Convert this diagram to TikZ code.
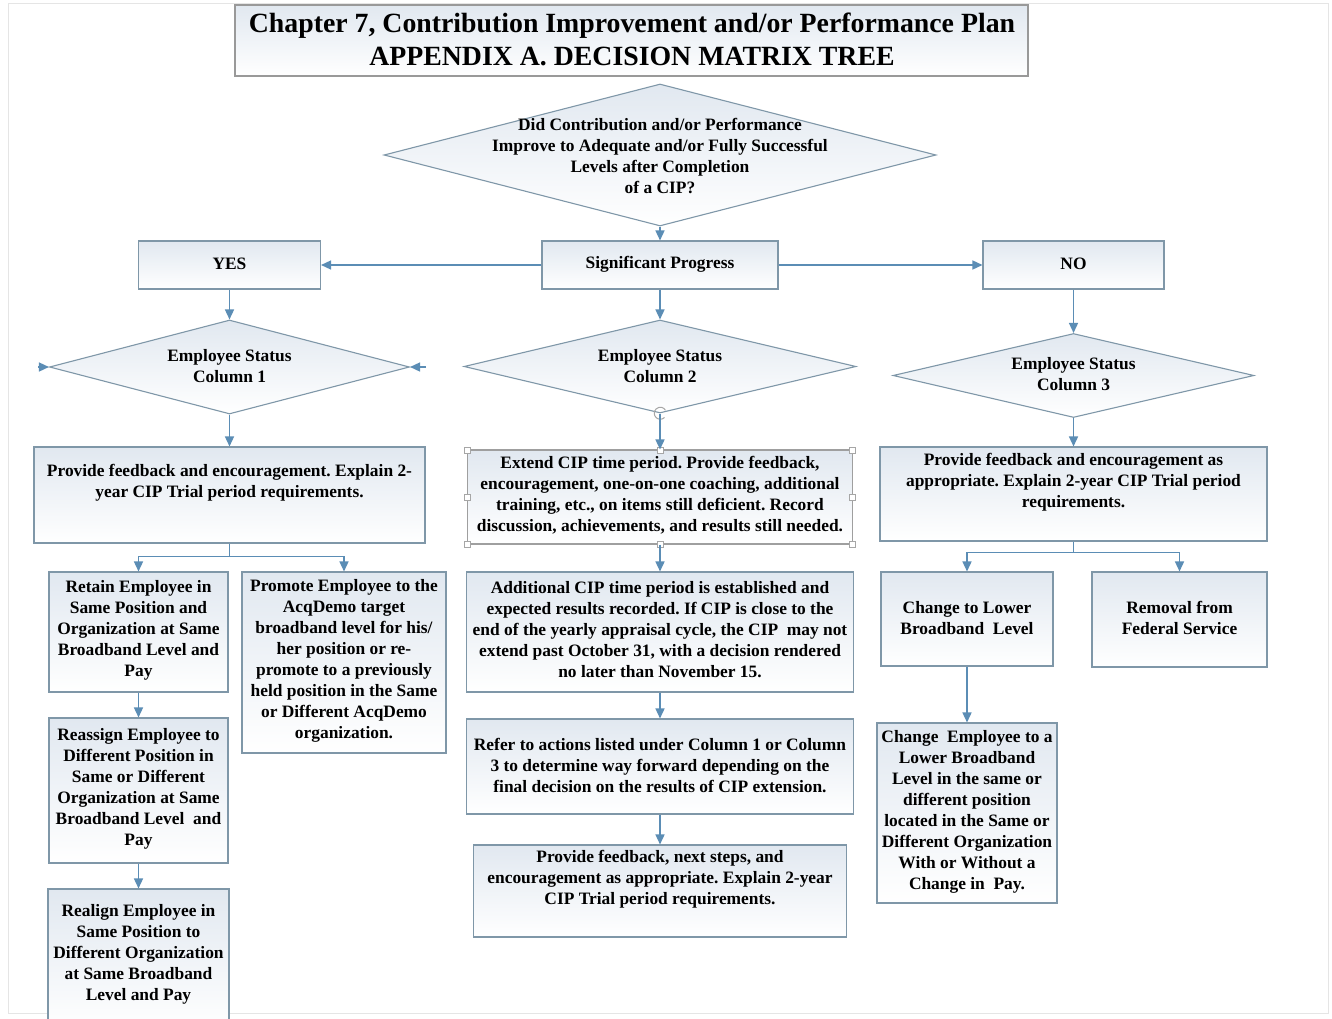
\documentclass[tikz,border=0pt]{standalone}
\usepackage{fontspec}
\setmainfont{Liberation Serif}
\usetikzlibrary{arrows.meta,shapes.geometric}
\definecolor{arr}{HTML}{5B8DB5}
\definecolor{bord}{HTML}{7F97A8}
\definecolor{filltop}{HTML}{E1E8F0}
\tikzset{
  box/.style={draw=bord, line width=1.1pt, top color=filltop, bottom color=white, inner sep=0pt, rectangle},
  dia/.style={draw=bord, line width=1.1pt, top color=filltop, bottom color=white, inner sep=0pt, diamond},
  txt/.style={align=center, inner sep=0pt, font=\fontsize{17.4}{21}\selectfont\bfseries},
  conn/.style={draw=arr, line width=1.5pt, -{Triangle[length=10pt,width=9pt]}},
  plain/.style={draw=arr, line width=1.5pt},
  handle/.style={draw=gray!70, fill=white, line width=0.6pt, minimum size=6pt, inner sep=0pt, rectangle}
}
\frenchspacing
\begin{document}
\begin{tikzpicture}[x=1pt,y=-1pt]
\useasboundingbox[fill=white] (0,0) rectangle (1332,1019);
\clip (0,0) rectangle (1332,1019);
\draw[gray!20, line width=0.8pt] (8,3) rectangle (1328,1013);

% title
\node[box, draw=gray!80, minimum width=793pt, minimum height=71pt] (title) at (631.5,40.5) {};
\node[align=center, inner sep=0pt, font=\fontsize{27.8}{33}\selectfont\bfseries] (titletxt) at (632,39) {Chapter 7, Contribution Improvement and/or Performance Plan\\APPENDIX A. DECISION MATRIX TREE};

% top diamond
\node[dia, minimum width=552pt, minimum height=142pt] (d0) at (660,155) {};
\node[txt] (d0t) at (660,156) {Did Contribution and/or Performance\\Improve to Adequate and/or Fully Successful\\Levels after Completion\\of a CIP?};

% level boxes
\node[box, minimum width=236pt, minimum height=48pt] (sp) at (660,265) {};
\node[txt] (spt) at (660,264) {Significant Progress};
\node[box, minimum width=182pt, minimum height=48pt] (yes) at (229.5,265) {};
\node[txt] (yest) at (229.5,264) {YES};
\node[box, minimum width=181pt, minimum height=48pt] (no) at (1073.5,265) {};
\node[txt] (not) at (1073.5,264) {NO};

% diamonds
\node[dia, minimum width=360pt, minimum height=94pt] (d1) at (229.5,367) {};
\node[txt] (d1t) at (229.5,366) {Employee Status\\Column 1};
\node[dia, minimum width=392pt, minimum height=93pt] (d2) at (660,366.5) {};
\node[txt] (d2t) at (660,366) {Employee Status\\Column 2};
\node[dia, minimum width=361pt, minimum height=84pt] (d3) at (1073.5,375.5) {};
\node[txt] (d3t) at (1073.5,374) {Employee Status\\Column 3};

% column boxes
\node[box, minimum width=391pt, minimum height=96pt] (b1) at (229.5,495) {};
\node[txt] (b1t) at (229.5,483) {Provide feedback and encouragement. Explain 2-\\year CIP Trial period requirements.};
\node[box, draw=gray!75, minimum width=385pt, minimum height=94pt] (b2) at (660,497) {};
\node[txt] (b2t) at (660,495) {Extend CIP time period. Provide feedback,\\encouragement, one-on-one coaching, additional\\training, etc., on items still deficient. Record\\discussion, achievements, and results still needed.};
\node[box, minimum width=387pt, minimum height=94pt] (b3) at (1073.5,494) {};
\node[txt] (b3t) at (1073.5,482) {Provide feedback and encouragement as\\appropriate. Explain 2-year CIP Trial period\\requirements.};

% selection handles on b2
\foreach \hx/\hy [count=\i] in {467.5/450,660/450,852.5/450,467.5/497,852.5/497,467.5/544,660/544,852.5/544}
  \node[handle] (h\i) at (\hx,\hy) {};
\draw[gray!70, line width=1pt] (664.5,417.5) arc (45:330:6);

% column 1 children
\node[box, minimum width=179pt, minimum height=120pt] (r1) at (138.5,632) {};
\node[txt] (r1t) at (138.5,630) {Retain Employee in\\Same Position and\\Organization at Same\\Broadband Level and\\Pay};
\node[box, minimum width=204pt, minimum height=181pt] (p1) at (344,662.5) {};
\node[txt] (p1t) at (344,661) {Promote Employee to the\\AcqDemo target\\broadband level for his/\\her position or re-\\promote to a previously\\held position in the Same\\or Different AcqDemo\\organization.};
\node[box, minimum width=179pt, minimum height=145pt] (r2) at (138.5,790.5) {};
\node[txt] (r2t) at (138.5,789) {Reassign Employee to\\Different Position in\\Same or Different\\Organization at Same\\Broadband Level\ \ and\\Pay};
\node[box, minimum width=181pt, minimum height=141pt] (r3) at (138.5,959.5) {};
\node[txt] (r3t) at (138.5,954) {Realign Employee in\\Same Position to\\Different Organization\\at Same Broadband\\Level and Pay};

% column 2 children
\node[box, minimum width=387pt, minimum height=120pt] (a) at (660,632) {};
\node[txt] (at) at (660,630) {Additional CIP time period is established and\\expected results recorded. If CIP is close to the\\end of the yearly appraisal cycle, the CIP\ \ may not\\extend past October 31, with a decision rendered\\no later than November 15.};
\node[box, minimum width=387pt, minimum height=95pt] (rf) at (660,766.5) {};
\node[txt] (rft) at (660,765) {Refer to actions listed under Column 1 or Column\\3 to determine way forward depending on the\\final decision on the results of CIP extension.};
\node[box, minimum width=373pt, minimum height=92pt] (pv) at (660,891) {};
\node[txt] (pvt) at (660,879) {Provide feedback, next steps, and\\encouragement as appropriate. Explain 2-year\\CIP Trial period requirements.};

% column 3 children
\node[box, minimum width=172pt, minimum height=94pt] (c1) at (967,619) {};
\node[txt] (c1t) at (967,618) {Change to Lower\\Broadband\ \ Level};
\node[box, minimum width=175pt, minimum height=95pt] (rm) at (1179.5,619.5) {};
\node[txt] (rmt) at (1179.5,618) {Removal from\\Federal Service};
\node[box, minimum width=180pt, minimum height=180pt] (c2) at (967,813) {};
\node[txt] (c2t) at (967,812) {Change\ \ Employee to a\\Lower Broadband\\Level in the same or\\different position\\located in the Same or\\Different Organization\\With or Without a\\Change in\ \ Pay.};

% connectors
\coordinate (s1) at (38,367);
\coordinate (s2) at (426,367);
\path[conn] (d0.south) -- (sp.north);
\path[conn] (sp.west) -- (yes.east);
\path[conn] (sp.east) -- (no.west);
\path[conn] (yes.south) -- (d1.north);
\path[conn] (sp.south) -- (d2.north);
\path[conn] (no.south) -- (d3.north);
\path[conn] (s1) -- (d1.west);
\path[conn] (s2) -- (d1.east);
\path[conn] (d1.south) -- (b1.north);
\path[conn] (d2.south) -- (b2.north);
\path[conn] (d3.south) -- (b3.north);
\path[plain] (b1.south) -- ++(0,13) coordinate (j1);
\path[conn] (j1) -| (r1.north);
\path[conn] (j1) -| (p1.north);
\path[conn] (r1.south) -- (r2.north);
\path[conn] (r2.south) -- (r3.north);
\path[conn] (b2.south) -- (a.north);
\path[conn] (a.south) -- (rf.north);
\path[conn] (rf.south) -- (pv.north);
\path[plain] (b3.south) -- ++(0,11) coordinate (j3);
\path[conn] (j3) -| (c1.north);
\path[conn] (j3) -| (rm.north);
\path[conn] (c1.south) -- (c2.north);
\end{tikzpicture}
\end{document}
